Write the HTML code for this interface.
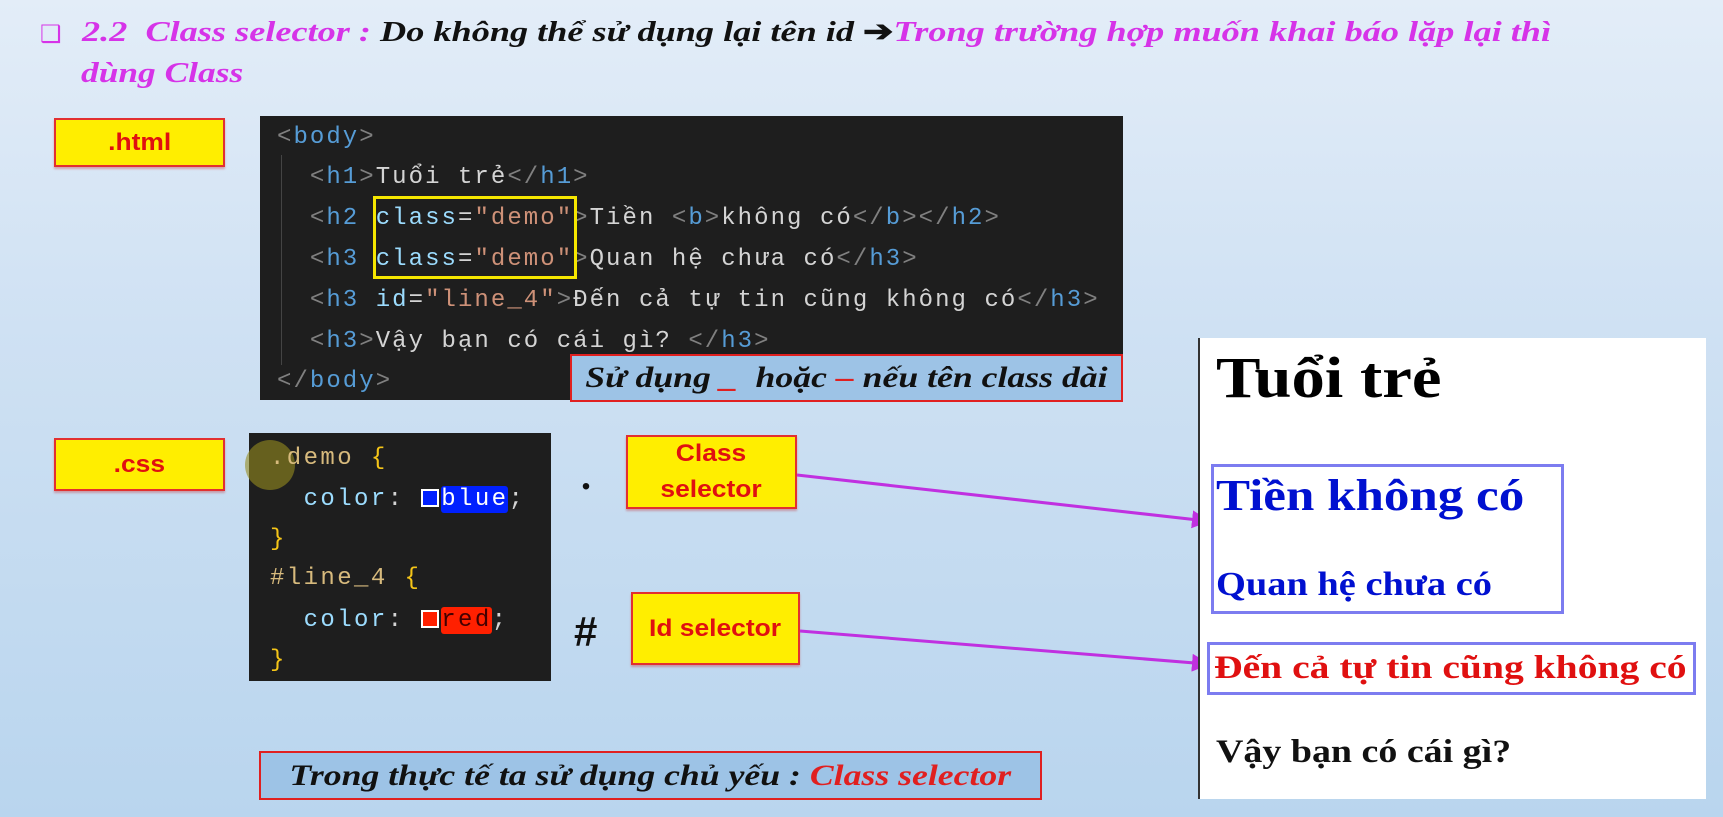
<!DOCTYPE html>
<html><head><meta charset="utf-8"><style>
*{margin:0;padding:0;box-sizing:border-box}
body{width:1723px;height:817px;overflow:hidden;position:relative;background:linear-gradient(180deg,#e3edf8 0%,#cfe1f3 40%,#b9d5ee 100%);font-family:"Liberation Serif",serif}
.a{position:absolute;white-space:nowrap}
.sx{display:inline-block;transform:scaleX(1.22);transform-origin:left center}
.sc{display:inline-block;transform:scaleX(1.19);transform-origin:center center}
.t{font-weight:bold;font-style:italic;font-size:29px;color:#111}
.m{color:#d633e8}
.yb{position:absolute;background:#ffee00;border:2px solid #e23030;color:#e01010;font-family:"Liberation Sans",sans-serif;font-weight:bold;font-size:24px;display:flex;align-items:center;justify-content:center;text-align:center;line-height:1.5;box-shadow:0 2px 2px rgba(200,0,0,.3)}
.yb .sc{transform:scaleX(1.1)}
.cl{position:absolute;font-family:"Liberation Mono",monospace;font-size:24px;letter-spacing:2.05px;color:#d4d4d4;white-space:pre}
.code{position:absolute;background:#1e1e1e}
.g{color:#808080}.tg{color:#569cd6}.at{color:#9cdcfe}.s{color:#ce9178}.y{color:#f5c518}.sel{color:#d7ba7d}
.note{position:absolute;background:#9dc3e6;border:2px solid #e02020;font-weight:bold;font-style:italic;font-size:29px;color:#111;display:flex;align-items:center;justify-content:center;white-space:nowrap}
.rp{position:absolute;font-weight:bold;white-space:nowrap}
</style></head><body>
<div class="a" style="left:40px;top:20px;color:#d633e8;font-size:24px">❑</div>
<div class="a t" style="left:82px;top:14px"><span class="sx" style="transform:scaleX(1.25)"><span class="m">2.2&nbsp; Class selector :</span> Do không thể sử dụng lại tên id <span style="font-style:normal">➔</span><span class="m">Trong trường hợp muốn khai báo lặp lại thì</span></span></div>
<div class="a t m" style="left:81px;top:57px"><span class="sx">dùng Class</span></div>

<div class="yb" style="left:54px;top:118px;width:171px;height:49px"><span class="sc">.html</span></div>
<div class="code" style="left:260px;top:116px;width:863px;height:284px"></div>
<div class="a" style="left:281px;top:155px;width:1px;height:210px;background:#444"></div>
<div class="cl" style="left:277px;top:124px"><span class="g">&lt;</span><span class="tg">body</span><span class="g">&gt;</span></div>
<div class="cl" style="left:277px;top:164px">  <span class="g">&lt;</span><span class="tg">h1</span><span class="g">&gt;</span>Tuổi trẻ<span class="g">&lt;/</span><span class="tg">h1</span><span class="g">&gt;</span></div>
<div class="cl" style="left:277px;top:205px">  <span class="g">&lt;</span><span class="tg">h2</span> <span class="at">class</span>=<span class="s">"demo"</span><span class="g">&gt;</span>Tiền <span class="g">&lt;</span><span class="tg">b</span><span class="g">&gt;</span>không có<span class="g">&lt;/</span><span class="tg">b</span><span class="g">&gt;&lt;/</span><span class="tg">h2</span><span class="g">&gt;</span></div>
<div class="cl" style="left:277px;top:246px">  <span class="g">&lt;</span><span class="tg">h3</span> <span class="at">class</span>=<span class="s">"demo"</span><span class="g">&gt;</span>Quan hệ chưa có<span class="g">&lt;/</span><span class="tg">h3</span><span class="g">&gt;</span></div>
<div class="cl" style="left:277px;top:287px">  <span class="g">&lt;</span><span class="tg">h3</span> <span class="at">id</span>=<span class="s">"line_4"</span><span class="g">&gt;</span>Đến cả tự tin cũng không có<span class="g">&lt;/</span><span class="tg">h3</span><span class="g">&gt;</span></div>
<div class="cl" style="left:277px;top:328px">  <span class="g">&lt;</span><span class="tg">h3</span><span class="g">&gt;</span>Vậy bạn có cái gì? <span class="g">&lt;/</span><span class="tg">h3</span><span class="g">&gt;</span></div>
<div class="cl" style="left:277px;top:368px"><span class="g">&lt;/</span><span class="tg">body</span><span class="g">&gt;</span></div>
<div class="a" style="left:373px;top:196px;width:204px;height:83px;border:3px solid #f5e600"></div>
<div class="note" style="left:570px;top:354px;width:553px;height:48px;font-size:30px"><span class="sc">Sử dụng&nbsp;<span style="color:#e02020">_</span>&nbsp; hoặc <span style="color:#e02020">–</span> nếu tên class dài</span></div>

<div class="yb" style="left:54px;top:438px;width:171px;height:53px"><span class="sc">.css</span></div>
<div class="code" style="left:249px;top:433px;width:302px;height:248px"></div>
<div class="a" style="left:245px;top:440px;width:50px;height:50px;border-radius:50%;background:rgba(150,140,30,.6)"></div>
<div class="cl" style="left:270px;top:445px;letter-spacing:2.4px"><span class="sel">.demo</span> <span class="y">{</span></div>
<div class="cl" style="left:270px;top:486px;letter-spacing:2.4px">  <span class="at">color</span>: <span style="display:inline-block;width:18px;height:18px;background:#0020ff;border:2px solid #fff;vertical-align:-2px;margin-right:2px"></span><span style="background:#0020ff;color:#fff;border-radius:3px">blue</span>;</div>
<div class="cl" style="left:270px;top:526px"><span class="y">}</span></div>
<div class="cl" style="left:270px;top:565px;letter-spacing:2.4px"><span class="sel">#line_4</span> <span class="y">{</span></div>
<div class="cl" style="left:270px;top:607px;letter-spacing:2.4px">  <span class="at">color</span>: <span style="display:inline-block;width:18px;height:18px;background:#ff2000;border:2px solid #fff;vertical-align:-2px;margin-right:2px"></span><span style="background:#ff2000;color:#400;border-radius:3px">red</span>;</div>
<div class="cl" style="left:270px;top:647px"><span class="y">}</span></div>

<div class="a" style="left:581px;top:452px;font-size:40px;font-weight:bold;color:#111">.</div>
<div class="a" style="left:574px;top:608px;font-size:42px;font-weight:bold;color:#111;font-family:'Liberation Sans',sans-serif">#</div>
<div class="yb" style="left:626px;top:435px;width:171px;height:74px"><span class="sc">Class<br>selector</span></div>
<div class="yb" style="left:631px;top:592px;width:169px;height:73px"><span class="sc">Id selector</span></div>

<svg class="a" style="left:0;top:0" width="1723" height="817">
<defs><marker id="ar" markerWidth="6" markerHeight="6" refX="5" refY="3" orient="auto"><path d="M0,0L6,3L0,6z" fill="#c030e0"/></marker></defs>
<line x1="797" y1="475" x2="1207" y2="521" stroke="#c030e0" stroke-width="3" marker-end="url(#ar)"/>
<line x1="800" y1="631" x2="1207" y2="664" stroke="#c030e0" stroke-width="3" marker-end="url(#ar)"/>
</svg>

<div class="note" style="left:259px;top:751px;width:783px;height:49px;font-size:30px"><span class="sc">Trong thực tế ta sử dụng chủ yếu :&nbsp;<span style="color:#e02020">Class selector</span></span></div>

<div class="a" style="left:1198px;top:338px;width:508px;height:461px;background:#fff;border-left:2px solid #333"></div>
<div class="rp" style="left:1216px;top:344px;font-size:58px;color:#000"><span class="sx" style="transform:scaleX(1.15)">Tuổi trẻ</span></div>
<div class="a" style="left:1211px;top:464px;width:353px;height:150px;border:3px solid #7c7cf0"></div>
<div class="rp" style="left:1216px;top:470px;font-size:44px;color:#0010d0"><span class="sx" style="transform:scaleX(1.16)">Tiền không có</span></div>
<div class="rp" style="left:1216px;top:566px;font-size:34px;color:#0010d0"><span class="sx" style="transform:scaleX(1.13)">Quan hệ chưa có</span></div>
<div class="a" style="left:1207px;top:642px;width:489px;height:53px;border:3px solid #7c7cf0"></div>
<div class="rp" style="left:1214px;top:650px;font-size:33px;color:#e01010"><span class="sx" style="transform:scaleX(1.2)">Đến cả tự tin cũng không có</span></div>
<div class="rp" style="left:1216px;top:734px;font-size:33px;color:#111"><span class="sx" style="transform:scaleX(1.15)">Vậy bạn có cái gì?</span></div>
</body></html>
